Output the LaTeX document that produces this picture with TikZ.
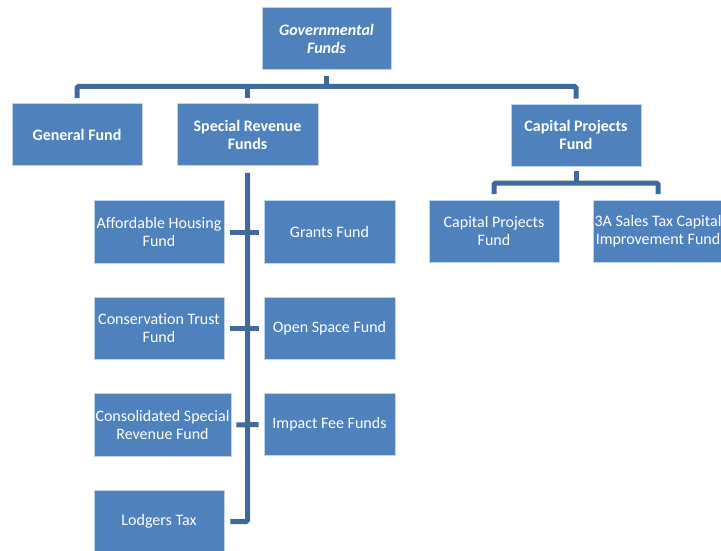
\documentclass[tikz,border=0pt]{standalone}
\usepackage{fontspec}
\setmainfont{Carlito}[Ligatures={NoCommon}]
\definecolor{boxblue}{HTML}{4F81BD}
\definecolor{lineblue}{HTML}{41699B}

\begin{document}
\begin{tikzpicture}[x=1pt,y=-1pt]
\tikzstyle{fund}=[draw=white!65!boxblue, line width=0.6pt, fill=boxblue, text=white, align=center, minimum width=130pt, minimum height=62pt, inner sep=0pt, font=\fontsize{16}{18}\selectfont]
\tikzstyle{link}=[draw=lineblue, line width=5pt, rounded corners=1.5pt]
\useasboundingbox (0,0) rectangle (721,551);
\node [fund, minimum width=129pt] (gov) at (326.5,38.5) {\textbf{\textit{Governmental}}\\\textbf{\textit{Funds}}};
\node [fund] (gen) at (77,134.5) {\textbf{General Fund}};
\node [fund, minimum width=141pt] (srf) at (247.5,134.5) {\textbf{Special Revenue}\\\textbf{Funds}};
\node [fund] (cpf) at (576,135) {\textbf{Capital Projects}\\\textbf{Fund}};
\node [fund] (cpsub) at (494,231.5) {Capital Projects\\Fund};
\node [fund] (sales) at (658,231.5) {3A Sales Tax Capital\\Improvement Fund};
\node [fund, minimum height=63pt] (afford) at (159,232) {Affordable Housing\\Fund};
\node [fund, minimum width=131pt, minimum height=63pt] (grants) at (329.5,232) {Grants Fund};
\node [fund] (conserv) at (159,328.5) {Conservation Trust\\Fund};
\node [fund, minimum width=131pt] (openspace) at (329.5,328.5) {Open Space Fund};
\node [fund, minimum width=137pt, minimum height=63pt] (consol) at (162.5,425) {Consolidated Special\\Revenue Fund};
\node [fund, minimum width=131pt] (impact) at (329.5,424.5) {Impact Fee Funds};
\node [fund] (lodgers) at (159,521.5) {Lodgers Tax};
\coordinate (topbar) at (0,86.5);
\coordinate (capbar) at (0,183);
\draw [link] ([yshift=-6pt]gov.south) -- (gov.south |- topbar);
\draw [link] ([yshift=5pt]gen.north) |- (topbar -| gov.south) -| ([yshift=5pt]cpf.north);
\draw [link] (srf.north |- topbar) -- ([yshift=5pt]srf.north);
\draw [link] ([yshift=-5pt]cpf.south) -- (cpf.south |- capbar);
\draw [link] ([yshift=6pt]cpsub.north) |- (capbar -| cpf.south) -| ([yshift=6pt]sales.north);
\draw [link] ([yshift=-7pt]srf.south) |- ([xshift=6pt]lodgers.east);
\draw [link] ([xshift=6pt]afford.east) -- ([xshift=-5pt]grants.west);
\draw [link] ([xshift=6pt]conserv.east) -- ([xshift=-5pt]openspace.west);
\draw [link] ([xshift=5pt]consol.east) -- ([xshift=-5pt]impact.west);
\end{tikzpicture}
\end{document}
